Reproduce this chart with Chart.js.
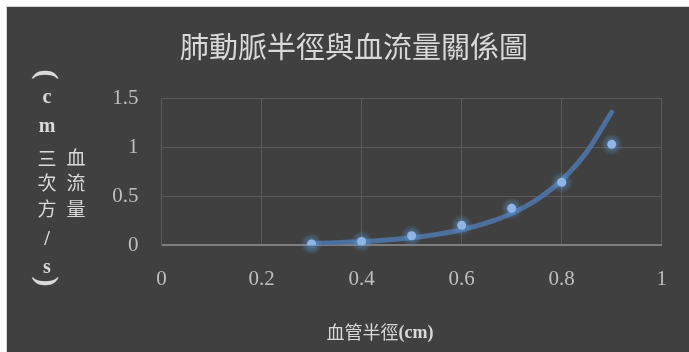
<!DOCTYPE html>
<html>
<head>
<meta charset="utf-8">
<script src="https://cdn.jsdelivr.net/npm/chart.js@4"></script>
<style>
html,body{margin:0;padding:0;background:#fff;overflow:hidden;}
canvas{display:block;}
</style>
</head>
<body>
<canvas id="c" width="689" height="352"></canvas>
<script>
// ---- data ----
const radius = [0.3, 0.4, 0.5, 0.6, 0.7, 0.8, 0.9];
const flow = [0.013, 0.04, 0.098, 0.204, 0.377, 0.643, 1.03];
// exponential trendline as seen in the picture
const trendX = [0.3, 0.35, 0.4, 0.45, 0.5, 0.55, 0.6, 0.65, 0.7, 0.75, 0.8, 0.85, 0.9];
const trendY = [0.019, 0.027, 0.038, 0.055, 0.078, 0.111, 0.159, 0.228, 0.325, 0.465, 0.665, 0.951, 1.36];
const xTicks = [0, 0.2, 0.4, 0.6, 0.8, 1];
const yTicks = [0, 0.5, 1, 1.5];
const chartTitle = '肺動脈半徑與血流量關係圖';
const xTitleCJK = '血管半徑';
const xTitleLatin = '(cm)';
const yTitleRight = ['血', '流', '量'];
const yTitleLeft = ['（', 'c', 'm', '三', '次', '方', '/', 's', '）'];

const CJK = '"Noto Sans CJK TC", "Noto Sans CJK SC", sans-serif';
const SERIF = '"Liberation Serif", "DejaVu Serif", serif';

function drawRotatedCentered(ctx, ch, x, y) {
  ctx.save();
  ctx.textAlign = 'left';
  ctx.textBaseline = 'alphabetic';
  const m = ctx.measureText(ch);
  const cx = (m.actualBoundingBoxRight - m.actualBoundingBoxLeft) / 2;
  const cy = (m.actualBoundingBoxDescent - m.actualBoundingBoxAscent) / 2;
  ctx.translate(x, y);
  ctx.rotate(Math.PI / 2);
  ctx.fillText(ch, -cx, -cy);
  ctx.restore();
}

const bgPlugin = {
  id: 'bg',
  beforeDraw(chart) {
    const ctx = chart.ctx, w = chart.width, h = chart.height;
    ctx.save();
    ctx.fillStyle = '#ffffff';
    ctx.fillRect(0, 0, w, h);
    ctx.fillStyle = '#d4d4d4';
    ctx.fillRect(6, 6, w - 6, h - 6);
    ctx.fillStyle = '#404040';
    ctx.fillRect(7, 7, w - 7, h - 7);
    ctx.restore();
  },
  afterDraw(chart) {
    const ctx = chart.ctx;
    ctx.save();
    ctx.fillStyle = '#d9d9d9';
    ctx.textBaseline = 'middle';
    // chart title
    ctx.textAlign = 'center';
    ctx.font = '29px ' + CJK;
    ctx.fillText(chartTitle, 354, 47);
    // x axis title
    ctx.textAlign = 'left';
    ctx.font = '18px ' + CJK;
    const w1 = ctx.measureText(xTitleCJK).width;
    ctx.font = 'bold 18px ' + SERIF;
    const w2 = ctx.measureText(xTitleLatin).width;
    const x0 = 380 - (w1 + w2) / 2;
    ctx.font = '18px ' + CJK;
    ctx.fillText(xTitleCJK, x0, 332);
    ctx.font = 'bold 18px ' + SERIF;
    ctx.fillText(xTitleLatin, x0 + w1, 333);
    // y axis title (stacked vertical, two columns)
    ctx.textAlign = 'center';
    const rightY = [158, 183, 209];
    ctx.font = '19px ' + CJK;
    yTitleRight.forEach((ch, i) => ctx.fillText(ch, 76, rightY[i]));
    const leftY = [75, 98, 127, 159, 183, 209, 240, 268, 281];
    yTitleLeft.forEach((ch, i) => {
      const latin = /[a-z\/]/.test(ch);
      if (ch === '（' || ch === '）') {
        ctx.font = 'bold 30px ' + SERIF;
        drawRotatedCentered(ctx, ch === '（' ? '(' : ')', 45, leftY[i]);
      } else {
        ctx.font = latin ? 'bold 20px ' + SERIF : '19px ' + CJK;
        ctx.fillText(ch, 47, leftY[i]);
      }
    });
    ctx.restore();
  }
};

const glowPlugin = {
  id: 'glow',
  beforeDatasetDraw(chart, args) {
    if (args.index !== 0) return;
    const ctx = chart.ctx;
    const meta = chart.getDatasetMeta(0);
    ctx.save();
    meta.data.forEach(pt => {
      const g = ctx.createRadialGradient(pt.x, pt.y, 0, pt.x, pt.y, 11);
      g.addColorStop(0, 'rgba(91,155,213,0.75)');
      g.addColorStop(0.5, 'rgba(91,155,213,0.35)');
      g.addColorStop(1, 'rgba(91,155,213,0)');
      ctx.fillStyle = g;
      ctx.beginPath();
      ctx.arc(pt.x, pt.y, 11, 0, Math.PI * 2);
      ctx.fill();
    });
    ctx.restore();
  }
};

new Chart(document.getElementById('c'), {
  type: 'scatter',
  data: {
    datasets: [
      {
        label: '血流量',
        data: radius.map((r, i) => ({ x: r, y: flow[i] })),
        backgroundColor: '#8fb5e6',
        borderColor: '#8fb5e6',
        borderWidth: 0,
        pointRadius: 4.5,
        order: 0
      },
      {
        label: 'trend',
        type: 'line',
        data: trendX.map((r, i) => ({ x: r, y: trendY[i] })),
        borderColor: 'rgba(78,114,163,0.95)',
        borderWidth: 5,
        borderCapStyle: 'round',
        pointRadius: 0,
        cubicInterpolationMode: 'monotone',
        fill: false,
        order: 1
      }
    ]
  },
  options: {
    responsive: false,
    animation: false,
    events: [],
    layout: { padding: { top: 98.3, right: 26, left: 0, bottom: 0 } },
    plugins: { legend: { display: false }, tooltip: { enabled: false }, title: { display: false } },
    scales: {
      x: {
        type: 'linear',
        min: 0, max: 1,
        afterBuildTicks(s) { s.ticks = xTicks.map(v => ({ value: v })); },
        afterFit(s) { s.height = 352 - 245.3; },
        ticks: {
          color: '#bfbfbf',
          font: { family: SERIF, size: 21 },
          padding: 22,
          maxRotation: 0,
          callback: v => String(v)
        },
        grid: { color: '#5b5b5b', lineWidth: 1, drawTicks: false },
        border: { color: '#7f7f7f', width: 2 }
      },
      y: {
        type: 'linear',
        min: 0, max: 1.5,
        afterBuildTicks(s) { s.ticks = yTicks.map(v => ({ value: v })); },
        afterFit(s) { s.width = 161.5; },
        ticks: {
          color: '#bfbfbf',
          font: { family: SERIF, size: 21 },
          padding: 23,
          callback: v => String(v)
        },
        grid: { color: '#5b5b5b', lineWidth: 1, drawTicks: false },
        border: { color: '#5b5b5b', width: 1 }
      }
    }
  },
  plugins: [bgPlugin, glowPlugin]
});
</script>
</body>
</html>
